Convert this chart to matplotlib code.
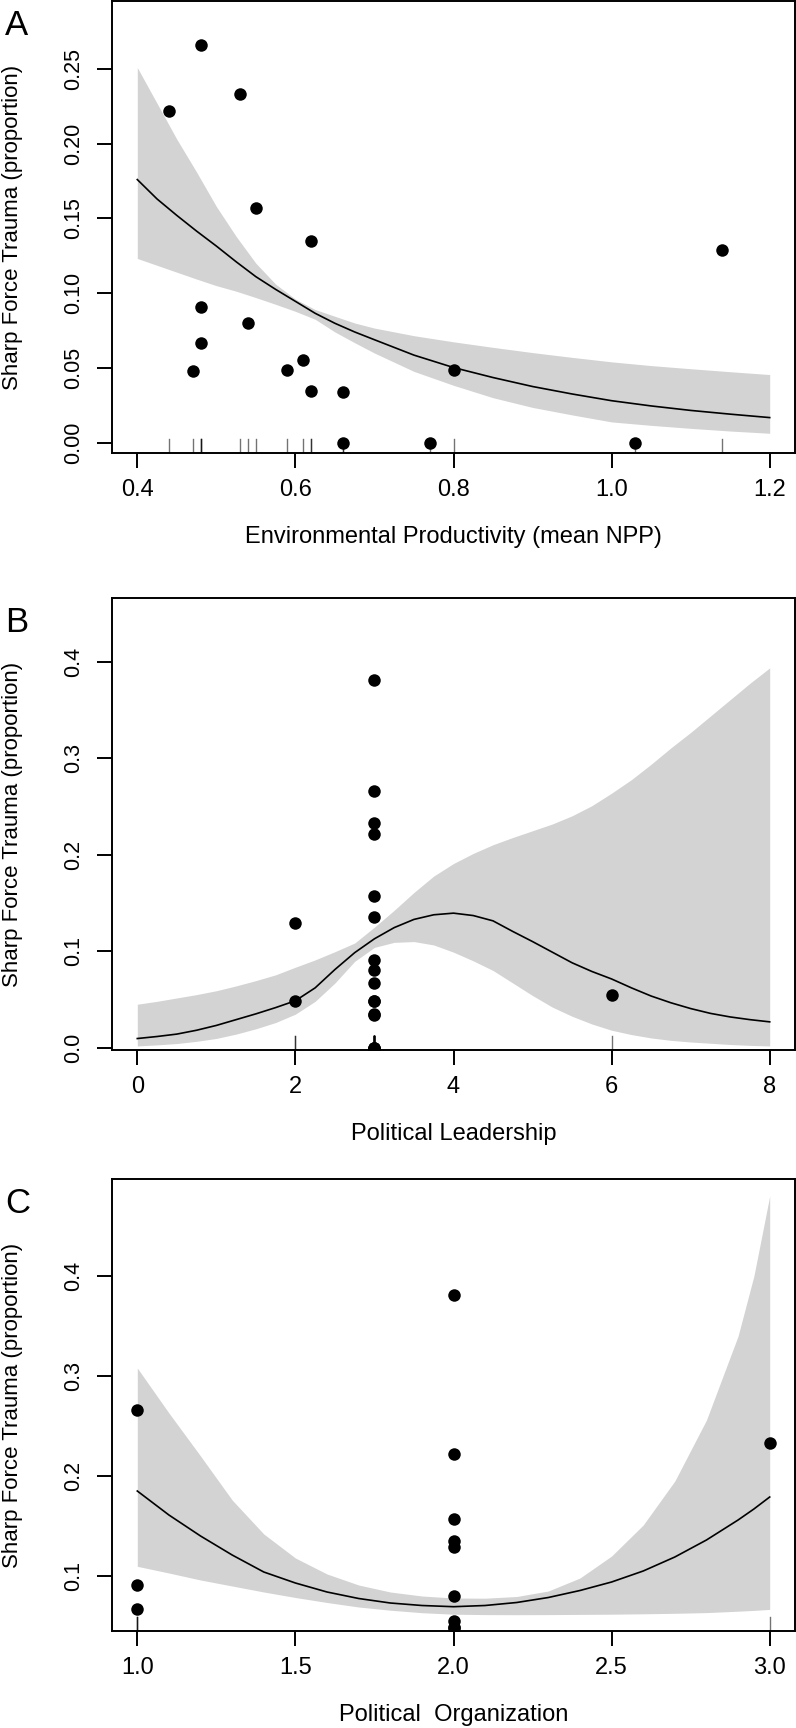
import matplotlib
matplotlib.use("Agg")
import matplotlib.pyplot as plt

plt.rcParams['font.family'] = ['Liberation Sans', 'DejaVu Sans']

### DATA ###
# panel A - environmental productivity
npp_x = [0.44, 0.47, 0.48, 0.48, 0.48, 0.53, 0.54, 0.55, 0.59,
         0.61, 0.62, 0.62, 0.66, 0.66, 0.77, 0.80, 1.03, 1.14]
npp_sft = [0.222, 0.048, 0.266, 0.091, 0.0666, 0.233, 0.080, 0.157, 0.0488,
           0.0551, 0.135, 0.0346, 0.0337, 0.0, 0.0, 0.0488, 0.0, 0.129]
npp_grid = [0.40, 0.425, 0.45, 0.475, 0.50, 0.525, 0.55, 0.575, 0.60, 0.625, 0.65, 0.675,
            0.70, 0.75, 0.80, 0.85, 0.90, 0.95, 1.00, 1.05, 1.10, 1.15, 1.20]
npp_fit = [0.176, 0.163, 0.152, 0.1415, 0.1315, 0.121, 0.111, 0.1025, 0.0945, 0.0865, 0.0798, 0.0740,
           0.0688, 0.0585, 0.0502, 0.0435, 0.0375, 0.0325, 0.0280, 0.0245, 0.0215, 0.019, 0.0167]
npp_lo = [0.1232, 0.1186, 0.114, 0.1094, 0.105, 0.1013, 0.097, 0.0925, 0.0878, 0.0825, 0.0740, 0.0668,
          0.0599, 0.0476, 0.0383, 0.030, 0.0235, 0.0185, 0.0138, 0.0115, 0.0095, 0.0077, 0.0062]
npp_hi = [0.251, 0.227, 0.203, 0.181, 0.158, 0.138, 0.120, 0.106, 0.096, 0.089, 0.0845, 0.080,
          0.0766, 0.0715, 0.0674, 0.0637, 0.0602, 0.057, 0.054, 0.0515, 0.0494, 0.0474, 0.0455]

# panel B - political leadership
lead_x = [2, 2, 6] + [3] * 16
lead_sft = [0.129, 0.0486, 0.0549,
            0.381, 0.266, 0.233, 0.222, 0.157, 0.135, 0.091, 0.080,
            0.0666, 0.048, 0.0488, 0.0346, 0.0337, 0.0, 0.0, 0.0]
lead_grid = [0, 0.25, 0.5, 0.75, 1.0, 1.25, 1.5, 1.75, 2.0, 2.25, 2.5, 2.75, 3.0, 3.25, 3.5, 3.75,
             4.0, 4.25, 4.5, 4.75, 5.0, 5.25, 5.5, 5.75, 6.0, 6.25, 6.5, 6.75, 7.0, 7.25, 7.5, 7.75, 8.0]
lead_fit = [0.0094, 0.0115, 0.0140, 0.0180, 0.0230, 0.0290, 0.0350, 0.0415, 0.0486, 0.0620, 0.0810,
            0.0985, 0.1129, 0.1245, 0.1330, 0.1378, 0.1395, 0.1370, 0.1315, 0.1205, 0.1100, 0.0990,
            0.0880, 0.0790, 0.0712, 0.0620, 0.0535, 0.0465, 0.0405, 0.0355, 0.0318, 0.0290, 0.0267]
lead_lo = [0.0017, 0.0028, 0.0042, 0.0065, 0.0095, 0.0140, 0.0195, 0.026, 0.0347, 0.048, 0.067,
           0.0895, 0.104, 0.1092, 0.1100, 0.1065, 0.0990, 0.0900, 0.0800, 0.0670, 0.0540, 0.0420,
           0.0325, 0.0245, 0.0180, 0.0135, 0.0100, 0.0075, 0.0058, 0.0045, 0.0032, 0.0023, 0.0017]
lead_hi = [0.045, 0.048, 0.0515, 0.055, 0.059, 0.064, 0.0695, 0.0755, 0.0834, 0.0910, 0.0995,
           0.1085, 0.125, 0.1425, 0.161, 0.178, 0.191, 0.2015, 0.2105, 0.218, 0.225, 0.232,
           0.2405, 0.251, 0.264, 0.278, 0.294, 0.311, 0.327, 0.344, 0.361, 0.378, 0.394]

# panel C - political organization
org_x = [1.0, 1.0, 1.0, 2.0, 2.0, 2.0, 2.0, 2.0, 2.0, 2.0, 2.0, 2.0, 3.0]
org_sft = [0.266, 0.091, 0.0666, 0.381, 0.222, 0.157, 0.135, 0.129, 0.080, 0.0551, 0.0488, 0.048, 0.233]
org_grid = [1.0, 1.1, 1.2, 1.3, 1.4, 1.5, 1.6, 1.7, 1.8, 1.9, 2.0,
            2.1, 2.2, 2.3, 2.4, 2.5, 2.6, 2.7, 2.8, 2.9, 2.95, 3.0]
org_fit = [0.185, 0.161, 0.140, 0.121, 0.104, 0.093, 0.084, 0.0775, 0.073, 0.0705, 0.0693,
           0.0705, 0.0735, 0.0785, 0.0855, 0.094, 0.105, 0.119, 0.136, 0.156, 0.167, 0.179]
org_lo = [0.1097, 0.103, 0.096, 0.090, 0.084, 0.0785, 0.0735, 0.069, 0.0658, 0.0633, 0.0618,
          0.0614, 0.0613, 0.0614, 0.0616, 0.0618, 0.0622, 0.0627, 0.0634, 0.0648, 0.0656, 0.0666]
org_hi = [0.308, 0.263, 0.220, 0.176, 0.142, 0.118, 0.102, 0.091, 0.084, 0.080, 0.078,
          0.0778, 0.0795, 0.085, 0.098, 0.120, 0.151, 0.195, 0.256, 0.340, 0.400, 0.480]

Y_LABEL = "Sharp Force Trauma (proportion)"

### FIGURE ###
W, H = 796, 1728
fig = plt.figure(figsize=(W / 100, H / 100), dpi=100)


def panel(top_px, letter, x, y, grid, fit, lo, hi, xlim, ylim,
          xticks, xticklabels, yticks, yticklabels, xlabel):
    ax = fig.add_axes([112 / W, 1 - (top_px + 452) / H, 683 / W, 452 / H])

    # confidence band + fitted curve
    ax.fill_between(grid, lo, hi, color="#d3d3d3", lw=0, zorder=1)
    ax.plot(grid, fit, color="black", lw=1.2, zorder=2, solid_joinstyle="round")

    # observations
    ax.plot(x, y, "o", color="black", ms=9, mew=0, zorder=3)

    # rug along the bottom
    for xv in x:
        ax.plot([xv, xv], [0, 0.03], transform=ax.get_xaxis_transform(),
                color="black", alpha=0.55, lw=1.0, zorder=4)

    ax.set_xlim(*xlim)
    ax.set_ylim(*ylim)
    ax.set_xticks(xticks)
    ax.set_xticklabels(xticklabels)
    ax.set_yticks(yticks)
    ax.set_yticklabels(yticklabels, rotation=90, va="center")

    for s in ax.spines.values():
        s.set_linewidth(1.4)
    ax.tick_params(direction="out", length=10.8, width=1.4, color="black")
    ax.tick_params(axis="x", labelsize=17, pad=8)
    ax.tick_params(axis="y", labelsize=15.5, pad=9)

    ax.set_ylabel(Y_LABEL, fontsize=16, va="center")
    ax.yaxis.set_label_coords(-0.145, 0.5)
    ax.set_xlabel(xlabel, fontsize=17, va="center")
    ax.xaxis.set_label_coords(0.5, -0.186)

    fig.text(5 / W, 1 - (top_px + 34) / H, letter, fontsize=25,
             ha="left", va="baseline")
    return ax


panel(1, "A", npp_x, npp_sft, npp_grid, npp_fit, npp_lo, npp_hi,
      (0.368, 1.232), (-0.007, 0.2955),
      [0.4, 0.6, 0.8, 1.0, 1.2], ["0.4", "0.6", "0.8", "1.0", "1.2"],
      [0, 0.05, 0.10, 0.15, 0.20, 0.25], ["0.00", "0.05", "0.10", "0.15", "0.20", "0.25"],
      "Environmental Productivity (mean NPP)")

panel(598, "B", lead_x, lead_sft, lead_grid, lead_fit, lead_lo, lead_hi,
      (-0.32, 8.32), (-0.0025, 0.4665),
      [0, 2, 4, 6, 8], ["0", "2", "4", "6", "8"],
      [0, 0.1, 0.2, 0.3, 0.4], ["0.0", "0.1", "0.2", "0.3", "0.4"],
      "Political Leadership")

panel(1179, "C", org_x, org_sft, org_grid, org_fit, org_lo, org_hi,
      (0.92, 3.08), (0.045, 0.497),
      [1.0, 1.5, 2.0, 2.5, 3.0], ["1.0", "1.5", "2.0", "2.5", "3.0"],
      [0.1, 0.2, 0.3, 0.4], ["0.1", "0.2", "0.3", "0.4"],
      "Political  Organization")

fig.savefig("out.png", dpi=100)
